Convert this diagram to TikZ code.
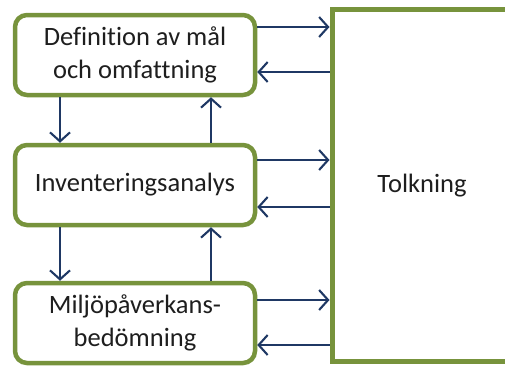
\documentclass[tikz,border=0pt]{standalone}
\usepackage{fontspec}
\setmainfont[Ligatures=NoCommon]{Carlito}
\usetikzlibrary{arrows.meta}
\definecolor{olive}{RGB}{119,147,60}
\definecolor{navy}{RGB}{31,56,100}
\definecolor{ink}{RGB}{30,30,30}
\tikzset{
  stagebox/.style={draw=olive, line width=4.5pt, rounded corners=12pt, fill=white,
    minimum width=240pt, minimum height=80pt, align=center, inner sep=0pt,
    text=ink, font=\fontsize{26.5}{33}\selectfont},
  flow/.style={draw=navy, line width=2.1pt,
    -{Straight Barb[length=9pt,width=20pt,line width=2.1pt]}},
}
\begin{document}
\begin{tikzpicture}[x=1pt,y=-1pt]
\useasboundingbox (0,0) rectangle (505,367);
% interpretation frame, open past the right border
\node[draw=olive, line width=5pt, minimum width=180pt, minimum height=351.5pt,
  inner sep=0pt, text=ink, font=\fontsize{26.5}{33}\selectfont] (tolk) at (422,185.25) {Tolkning};
% life-cycle stages
\node[stagebox] (def) at (135,55) {Definition av mål\\och omfattning};
\node[stagebox] (inv) at (135,185) {Inventeringsanalys};
\node[stagebox] (mil) at (135,323) {Miljöpåverkans-\\bedömning};
% iteration between the stages
\draw[flow] (def.south -| 60,0) -- (inv.north -| 60,0);
\draw[flow] (inv.north -| 211,0) -- (def.south -| 211,0);
\draw[flow] (inv.south -| 60,0) -- (mil.north -| 60,0);
\draw[flow] (mil.north -| 211,0) -- (inv.south -| 211,0);
% exchange with the interpretation
\draw[flow] (def.east |- 0,27) -- (tolk.west |- 0,27);
\draw[flow] (tolk.west |- 0,72) -- (def.east |- 0,72);
\draw[flow] (inv.east |- 0,160) -- (tolk.west |- 0,160);
\draw[flow] (tolk.west |- 0,207) -- (inv.east |- 0,207);
\draw[flow] (mil.east |- 0,300) -- (tolk.west |- 0,300);
\draw[flow] (tolk.west |- 0,345) -- (mil.east |- 0,345);
\end{tikzpicture}
\end{document}
